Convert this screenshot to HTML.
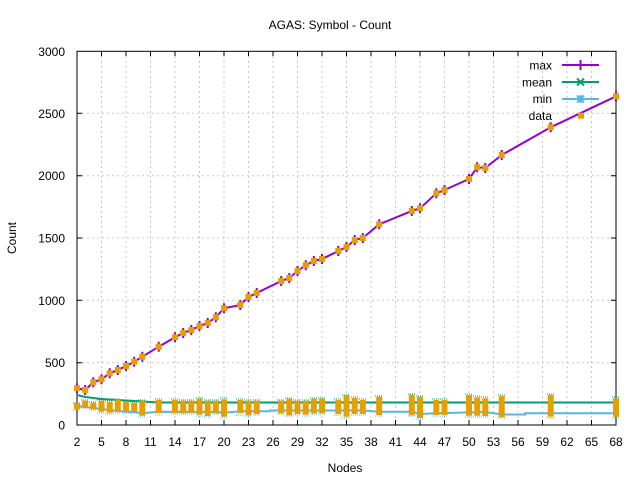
<!DOCTYPE html>
<html><head><meta charset="utf-8"><style>
html,body{margin:0;padding:0;background:#fff;}
svg{display:block;font-family:"Liberation Sans",sans-serif;}
</style></head><body>
<svg width="640" height="480" viewBox="0 0 640 480" xmlns="http://www.w3.org/2000/svg">
<rect width="640" height="480" fill="#fff"/>
<g stroke="#c8c8c8" stroke-width="1" stroke-dasharray="2,3" fill="none">
<path d="M101.5 51V425M126 51V425M150.5 51V425M175 51V425M199.5 51V425M224 51V425M248.5 51V425M273 51V425M297.5 51V425M322 51V425M346.5 51V425M371 51V425M395.5 51V425M420 51V425M444.5 51V425M469 51V425M493.5 51V425M518 51V425M542.5 51V425M567 51V425M591.5 51V425"/>
<path d="M77 362.7H616M77 300.3H616M77 238H616M77 175.7H616M77 113.3H616"/>
</g>
<g stroke="#000" stroke-width="1" fill="none">
<rect x="77" y="51.3" width="539" height="373.7"/>
<path d="M101.5 425v-5M126 425v-5M150.5 425v-5M175 425v-5M199.5 425v-5M224 425v-5M248.5 425v-5M273 425v-5M297.5 425v-5M322 425v-5M346.5 425v-5M371 425v-5M395.5 425v-5M420 425v-5M444.5 425v-5M469 425v-5M493.5 425v-5M518 425v-5M542.5 425v-5M567 425v-5M591.5 425v-5"/>
<path d="M101.5 51v5M126 51v5M150.5 51v5M175 51v5M199.5 51v5M224 51v5M248.5 51v5M273 51v5M297.5 51v5M322 51v5M346.5 51v5M371 51v5M395.5 51v5M420 51v5M444.5 51v5M469 51v5M493.5 51v5M518 51v5M542.5 51v5M567 51v5M591.5 51v5"/>
<path d="M77 362.7h5M77 300.3h5M77 238h5M77 175.7h5M77 113.3h5M616 362.7h-5M616 300.3h-5M616 238h-5M616 175.7h-5M616 113.3h-5"/>
</g>
<g font-size="12" fill="#000" text-anchor="end">
<text x="65" y="429.5">0</text>
<text x="65" y="367">500</text>
<text x="65" y="305">1000</text>
<text x="65" y="242.5">1500</text>
<text x="65" y="180">2000</text>
<text x="65" y="118">2500</text>
<text x="65" y="56">3000</text>
</g>
<g font-size="12" fill="#000" text-anchor="middle">
<text x="77" y="446">2</text><text x="101.5" y="446">5</text><text x="126" y="446">8</text><text x="150.5" y="446">11</text><text x="175" y="446">14</text><text x="199.5" y="446">17</text><text x="224" y="446">20</text><text x="248.5" y="446">23</text><text x="273" y="446">26</text><text x="297.5" y="446">29</text><text x="322" y="446">32</text><text x="346.5" y="446">35</text><text x="371" y="446">38</text><text x="395.5" y="446">41</text><text x="420" y="446">44</text><text x="444.5" y="446">47</text><text x="469" y="446">50</text><text x="493.5" y="446">53</text><text x="518" y="446">56</text><text x="542.5" y="446">59</text><text x="567" y="446">62</text><text x="591.5" y="446">65</text><text x="616" y="446">68</text>
<text x="330" y="29">AGAS: Symbol - Count</text>
<text x="345" y="472">Nodes</text>
<text x="0" y="0" transform="translate(16,238) rotate(-90)">Count</text>
</g>
<polyline fill="none" stroke="#009e73" stroke-width="2" points="77,395 85.2,397 93.3,398 101.5,399 109.7,399.5 117.8,400 126,400.5 134.2,401 142.3,401.5 158.7,402.5 616,402.5"/>
<polyline fill="none" stroke="#56b4e9" stroke-width="2" points="77,406 85.2,407 93.3,408 101.5,409 109.7,410 117.8,411 126,411.5 134.2,412 142.3,413.3 158.7,411.7 215.8,412 224,412.7 240.3,411.3 270,411.3 270,410.5 362.8,410.5 379.2,411.7 411.8,411.7 420,414 436.3,413.3 485.3,412 501.7,414.5 525,414.5 525,413.3 616,413.3"/>
<path fill="none" stroke="#009e73" stroke-width="1" stroke-dasharray="1,1" d="M73 403h8M81 400h8M89 402h8M97 400h8M105 401h8M113 399h8M122 401h8M130 402h8M138 400h8M155 399h8M171 399h8M179 400h8M187 400h8M196 398h8M204 400h8M212 400h8M220 398h8M236 399h8M244 400h8M253 400h8M277 400h8M285 398h8M293 400h8M302 400h8M310 398h8M318 398h8M334 399h8M342 395h8M351 397h8M359 399h8M375 396h8M408 394h8M416 396h8M432 399h8M440 399h8M465 394h8M473 396h8M481 397h8M498 395h8M547 394h8M612 397h8"/>
<path fill="none" stroke="#56b4e9" stroke-width="1" stroke-dasharray="1,1" d="M73 410h8M81 408h8M89 410h8M97 413h8M105 414h8M113 413h8M122 413h8M130 413h8M138 417h8M155 415h8M171 414h8M179 414h8M187 414h8M196 416h8M204 417h8M212 414h8M220 418h8M236 415h8M244 416h8M253 415h8M277 414h8M285 416h8M293 415h8M302 416h8M310 414h8M318 414h8M334 415h8M342 418h8M351 415h8M359 415h8M375 416h8M408 416h8M416 419h8M432 416h8M440 416h8M465 417h8M473 417h8M481 417h8M498 418h8M547 418h8M612 418h8"/>
<path fill="none" stroke="#e69f00" stroke-width="6" d="M77 403V409M85.2 400.7V407.3M93.3 402.7V409.3M101.5 400.7V411.7M109.7 402V412.7M117.8 399.3V411.7M126 401.3V411.7M134.2 402.7V411.7M142.3 400.7V415.7M158.7 400V413.3M175 400V413M183.2 400.7V413.3M191.3 400.7V412.7M199.5 398.7V414.7M207.7 400.7V416M215.8 400.7V413.3M224 399.3V416.7M240.3 400V413.3M248.5 400.7V415.3M256.7 400.7V414M281.2 400.7V413.3M289.3 398.7V415.3M297.5 400.7V414M305.7 400.7V414.7M313.8 398.7V413.3M322 398.7V413.3M338.3 400V414M346.5 395.3V416.7M354.7 398V414M362.8 400V414M379.2 396.7V415M411.8 394.7V415.3M420 396.7V418M436.3 400V415M444.5 400V415M469 395V415.7M477.2 397.3V415.7M485.3 398.3V416M501.7 396V417.3M550.7 395V416.7M616 398.3V416.7"/>
<polyline fill="none" stroke="#9400d3" stroke-width="2" points="77,388.3 85.2,390 93.3,382.3 101.5,379.3 109.7,373.3 117.8,370 126,366 134.2,361.7 142.3,356.7 158.7,346.7 175,337.3 183.2,333 191.3,330 199.5,326 207.7,323 215.8,317.3 224,308.3 240.3,305 248.5,297 256.7,293 281.2,281 289.3,278 297.5,271 305.7,265.3 313.8,261 322,259 338.3,251 346.5,247 354.7,240 362.8,238 379.2,224.3 411.8,211 420,208.3 436.3,193.3 444.5,190 469,179 477.2,167.3 485.3,168 501.7,155 550.7,127.3 616,96.3"/>
<path fill="none" stroke="#9400d3" stroke-width="2" d="M77 383.3v10M85.2 385v10M93.3 377.3v10M101.5 374.3v10M109.7 368.3v10M117.8 365v10M126 361v10M134.2 356.7v10M142.3 351.7v10M158.7 341.7v10M175 332.3v10M183.2 328v10M191.3 325v10M199.5 321v10M207.7 318v10M215.8 312.3v10M224 303.3v10M240.3 300v10M248.5 292v10M256.7 288v10M281.2 276v10M289.3 273v10M297.5 266v10M305.7 260.3v10M313.8 256v10M322 254v10M338.3 246v10M346.5 242v10M354.7 235v10M362.8 233v10M379.2 219.3v10M411.8 206v10M420 203.3v10M436.3 188.3v10M444.5 185v10M469 174v10M477.2 162.3v10M485.3 163v10M501.7 150v10M550.7 122.3v10M616 91.3v10"/>
<path fill="none" stroke="#e69f00" stroke-width="6" d="M77 385.3v6M85.2 387v6M93.3 379.3v6M101.5 376.3v6M109.7 370.3v6M117.8 367v6M126 363v6M134.2 358.7v6M142.3 353.7v6M158.7 343.7v6M175 334.3v6M183.2 330v6M191.3 327v6M199.5 323v6M207.7 320v6M215.8 314.3v6M224 305.3v6M240.3 302v6M248.5 294v6M256.7 290v6M281.2 278v6M289.3 275v6M297.5 268v6M305.7 262.3v6M313.8 258v6M322 256v6M338.3 248v6M346.5 244v6M354.7 237v6M362.8 235v6M379.2 221.3v6M411.8 208v6M420 205.3v6M436.3 190.3v6M444.5 187v6M469 176v6M477.2 164.3v6M485.3 165v6M501.7 152v6M550.7 124.3v6M616 93.3v6"/>
<g font-size="12" fill="#000" text-anchor="end">
<text x="552" y="69.5">max</text>
<text x="552" y="86.5">mean</text>
<text x="552" y="103">min</text>
<text x="552" y="120">data</text>
</g>
<path d="M562 65H599M580.5 60v10M576 65h9" stroke="#9400d3" stroke-width="2" fill="none"/>
<path d="M562 82H599M577 78.5l7 7M584 78.5l-7 7" stroke="#009e73" stroke-width="2" fill="none"/>
<path d="M562 99H599M577 95.5l7 7M584 95.5l-7 7M580.5 95v8M576.5 99h8" stroke="#56b4e9" stroke-width="2" fill="none"/>
<rect x="578" y="112.7" width="6" height="6" fill="#e69f00"/>
</svg>
</body></html>
